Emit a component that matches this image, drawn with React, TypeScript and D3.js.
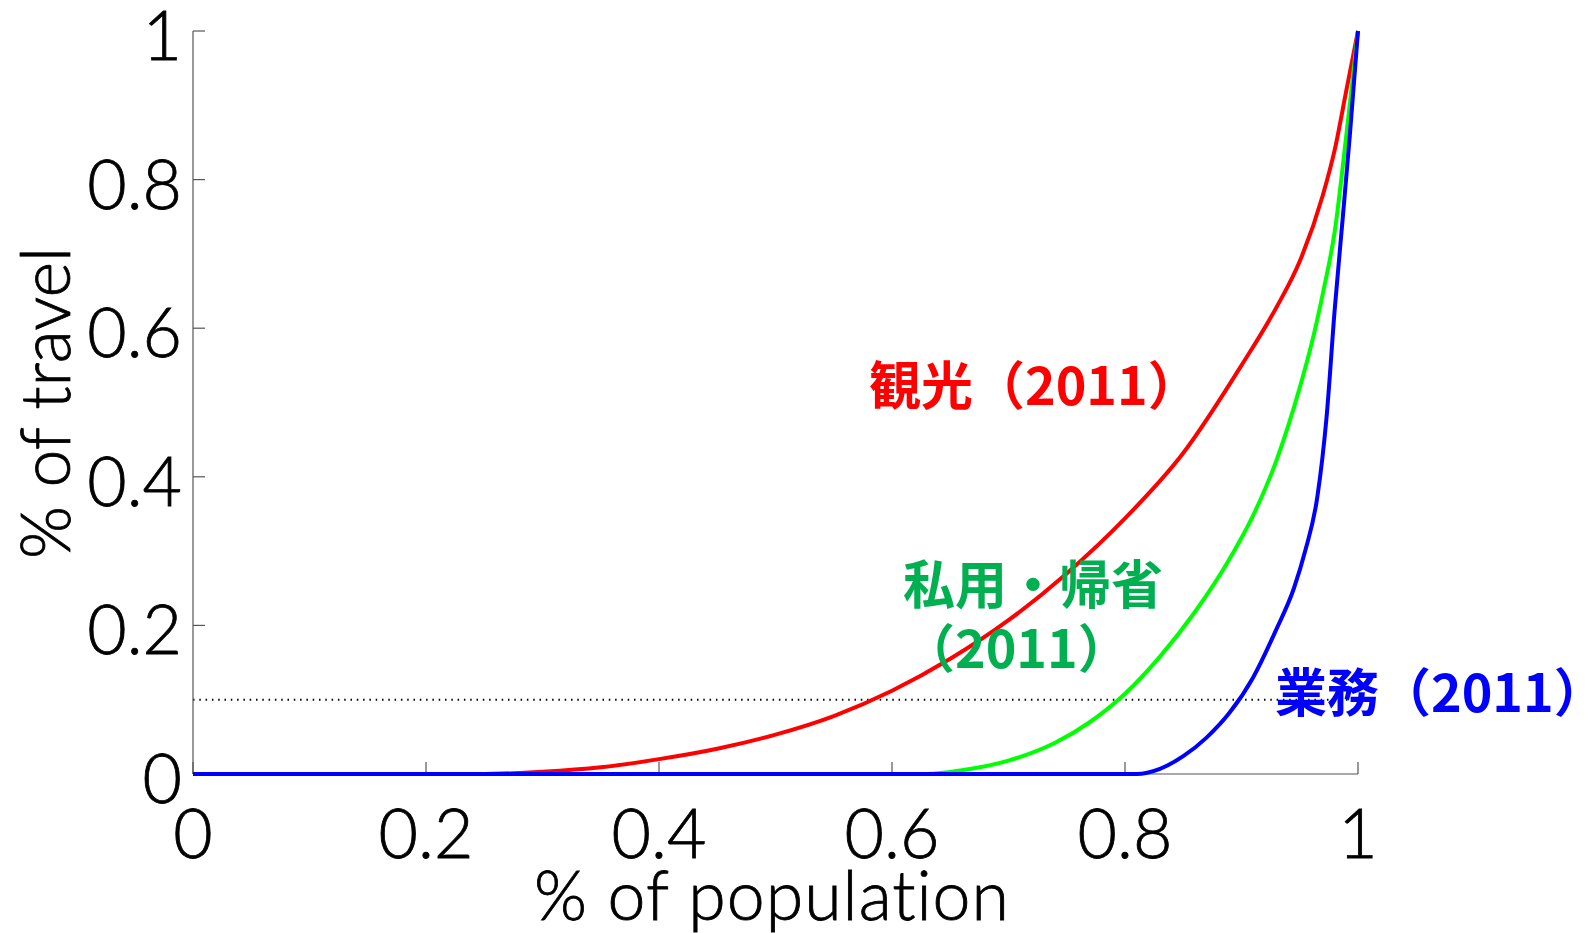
import React from "react";
import * as d3 from "d3";

const xTicks = [0, 0.2, 0.4, 0.6, 0.8, 1];
const yTicks = [0, 0.2, 0.4, 0.6, 0.8, 1];
const xTickLabels = ["0", "0.2", "0.4", "0.6", "0.8", "1"];
const yTickLabels = ["0", "0.2", "0.4", "0.6", "0.8", "1"];

const tourismX = [0, 0.245, 0.3, 0.35, 0.4, 0.45, 0.5, 0.55, 0.6, 0.65, 0.7, 0.75, 0.8, 0.85, 0.9, 0.93, 0.95, 0.97, 0.98, 0.99, 1];
const tourismY = [0, 0, 0.003, 0.009, 0.02, 0.034, 0.053, 0.078, 0.112, 0.155, 0.207, 0.27, 0.344, 0.432, 0.55, 0.628, 0.69, 0.78, 0.84, 0.92, 1];

const privateX = [0, 0.63, 0.66, 0.7, 0.74, 0.77, 0.8, 0.83, 0.86, 0.89, 0.91, 0.93, 0.95, 0.96, 0.97, 0.98, 0.99, 1];
const privateY = [0, 0, 0.005, 0.018, 0.042, 0.07, 0.108, 0.158, 0.218, 0.29, 0.348, 0.422, 0.52, 0.578, 0.648, 0.73, 0.86, 1];

const businessX = [0, 0.81, 0.83, 0.85, 0.87, 0.89, 0.91, 0.93, 0.945, 0.955, 0.965, 0.973, 0.98, 0.987, 0.993, 1];
const businessY = [0, 0, 0.007, 0.024, 0.049, 0.083, 0.13, 0.195, 0.25, 0.302, 0.372, 0.48, 0.625, 0.75, 0.86, 1];

const refLevel = 0.1;

const seriesList = [
  { name: "tourism", xs: tourismX, ys: tourismY, color: "#ff0000" },
  { name: "private", xs: privateX, ys: privateY, color: "#00ff00" },
  { name: "business", xs: businessX, ys: businessY, color: "#0000ff" },
];

export default function App() {
  const W = 1596;
  const H = 933;
  const x = d3.scaleLinear().domain([0, 1]).range([193, 1358]);
  const y = d3.scaleLinear().domain([0, 1]).range([774, 31]);
  const line = d3
    .line<[number, number]>()
    .x((d) => x(d[0]))
    .y((d) => y(d[1]))
    .curve(d3.curveMonotoneX);

  const tickFont = "Lato, 'Open Sans', sans-serif";
  const cjk = "'Noto Sans CJK JP', 'Noto Sans CJK SC', sans-serif";
  const axisColor = "#555";
  const noLig = { fontVariantLigatures: "none" as const, fontFeatureSettings: "'liga' 0, 'clig' 0" };

  return (
    <svg
      width={W}
      height={H}
      style={{ position: "absolute", left: 0, top: 0, background: "#fff" }}
    >
      <rect x={0} y={0} width={W} height={H} fill="#fff" />
      {/* reference dotted line */}
      <line
        x1={x(0)}
        x2={x(1)}
        y1={y(refLevel)}
        y2={y(refLevel)}
        stroke="#000"
        strokeWidth={2}
        strokeDasharray="1.5,4.8"
      />
      {/* axes */}
      <line x1={x(0)} x2={x(0)} y1={y(0)} y2={y(1)} stroke={axisColor} strokeWidth={1.2} />
      <line x1={x(0)} x2={x(1)} y1={y(0)} y2={y(0)} stroke={axisColor} strokeWidth={1.2} />
      {yTicks.map((t, i) => (
        <g key={"yt" + i}>
          <line x1={x(0)} x2={x(0) + 12} y1={y(t)} y2={y(t)} stroke={axisColor} strokeWidth={1.2} />
          <text
            x={182}
            y={y(t) + 29}
            textAnchor="end"
            fontFamily={tickFont}
            fontWeight={300}
            fontSize={68}
            fill="#000"
            stroke="#000"
            strokeWidth={0.8}
          >
            {yTickLabels[i]}
          </text>
        </g>
      ))}
      {xTicks.map((t, i) => (
        <g key={"xt" + i}>
          <line x1={x(t)} x2={x(t)} y1={y(0)} y2={y(0) - 12} stroke={axisColor} strokeWidth={1.2} />
          <text
            x={x(t)}
            y={858}
            textAnchor="middle"
            fontFamily={tickFont}
            fontWeight={300}
            fontSize={68}
            fill="#000"
            stroke="#000"
            strokeWidth={0.8}
          >
            {xTickLabels[i]}
          </text>
        </g>
      ))}
      {/* curves */}
      {seriesList.map((s) => (
        <path
          key={s.name}
          d={line(s.xs.map((v, i) => [v, s.ys[i]] as [number, number])) || ""}
          fill="none"
          stroke={s.color}
          strokeWidth={4}
          strokeLinejoin="round"
        />
      ))}
      {/* axis titles */}
      <text
        x={772}
        y={920}
        textAnchor="middle"
        fontFamily={tickFont}
        fontWeight={300}
        fontSize={68}
        letterSpacing={1}
        fill="#000"
        stroke="#000"
        strokeWidth={0.8}
        style={noLig}
      >
        % of population
      </text>
      <text
        transform="translate(70,403) rotate(-90)"
        textAnchor="middle"
        fontFamily={tickFont}
        fontWeight={300}
        fontSize={68}
        fill="#000"
        stroke="#000"
        strokeWidth={0.8}
        style={noLig}
      >
        % of travel
      </text>
      {/* annotations */}
      <text x={869} y={405} fontFamily={cjk} fontWeight={700} fontSize={52} fill="#ff0000">
        観光（2011）
      </text>
      <text x={903} y={604} fontFamily={cjk} fontWeight={700} fontSize={52} fill="#00b050">
        私用・帰省
      </text>
      <text x={903} y={668} fontFamily={cjk} fontWeight={700} fontSize={52} fill="#00b050">
        （2011）
      </text>
      <text x={1275} y={712} fontFamily={cjk} fontWeight={700} fontSize={52} fill="#0000ff">
        業務（2011）
      </text>
    </svg>
  );
}
